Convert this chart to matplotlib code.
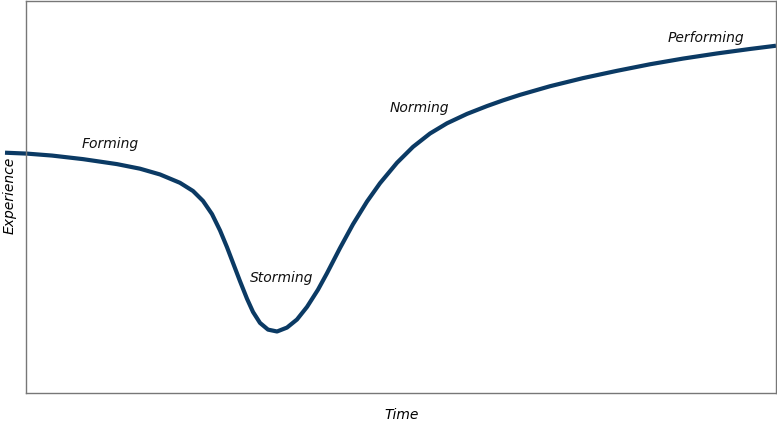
import matplotlib.pyplot as plt

# Tuckman curve (time 0-100, experience 0-100)
time = [-2.80, 0.13, 3.47, 7.60, 12.13, 15.20, 17.87, 20.53, 22.27, 23.60,
        24.80, 25.87, 26.80, 27.60, 28.53, 29.47, 30.27, 31.20, 32.27, 33.47,
        34.80, 36.13, 37.47, 38.93, 40.13, 41.87, 43.60, 45.47, 47.20, 49.47,
        51.60, 53.87, 56.13, 58.80, 61.47, 63.60, 65.87, 69.87, 74.27, 78.80,
        83.20, 87.60, 92.13, 96.53, 100.0]
experience = [61.30, 61.07, 60.57, 59.66, 58.39, 57.22, 55.75, 53.62, 51.53,
              49.00, 45.64, 41.47, 37.19, 33.19, 28.54, 24.03, 20.67, 17.88,
              16.17, 15.69, 16.69, 18.75, 21.97, 26.35, 30.55, 36.99, 43.05,
              48.85, 53.52, 58.74, 62.79, 66.20, 68.80, 71.20, 73.20, 74.65,
              76.06, 78.26, 80.33, 82.19, 83.86, 85.31, 86.62, 87.76, 88.59]

stages = ["Forming", "Storming", "Norming", "Performing"]
stage_t = [11.2, 34.1, 52.4, 90.7]
stage_e = [63.5, 29.3, 72.7, 90.6]

fig = plt.figure(figsize=(7.77, 4.22), dpi=100)
ax = fig.add_axes([26 / 777, 29 / 422, 750 / 777, 392 / 422])

ax.plot(time, experience, color="#0b3a64", lw=3, solid_capstyle="butt",
        solid_joinstyle="round", clip_on=False)

for name, t, e in zip(stages, stage_t, stage_e):
    ax.text(t, e, name, ha="center", va="center", fontsize=10,
            style="italic", family="DejaVu Sans", color="#111111")

ax.set_xlim(0, 100)
ax.set_ylim(0, 100)
ax.set_xticks([])
ax.set_yticks([])
for s in ax.spines.values():
    s.set_color("#777777")
    s.set_linewidth(1)

fig.text(402 / 777, 1 - 415 / 422, "Time", ha="center", va="center",
         fontsize=10, style="italic")
fig.text(10 / 777, 1 - 195 / 422, "Experience", ha="center", va="center",
         fontsize=10, style="italic", rotation=90)

plt.savefig("out.png")
